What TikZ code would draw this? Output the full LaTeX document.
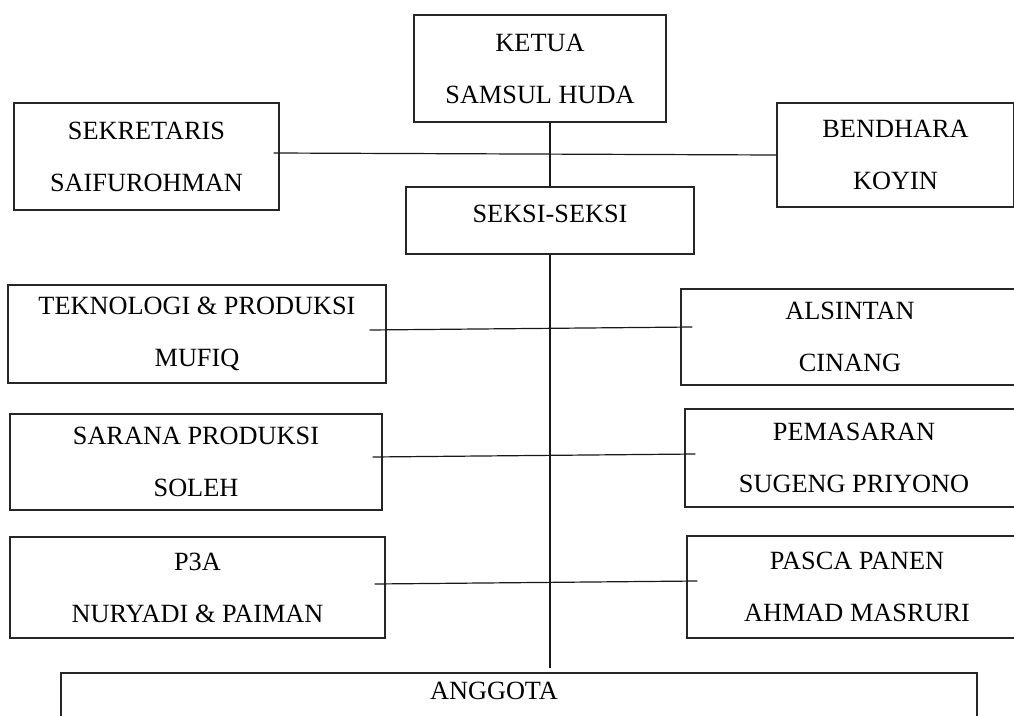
\documentclass[tikz,border=0pt]{standalone}
\usepackage{fontspec}
\setmainfont{Liberation Serif}
\usetikzlibrary{positioning,calc}

\tikzset{
  kotak/.style={draw=black!85,line width=1.2pt,rectangle,align=center,inner sep=0pt,
    font=\fontsize{26.3}{52}\selectfont},
  garis/.style={draw=black!90,line width=1.2pt}
}

\begin{document}
\begin{tikzpicture}[x=1pt,y=-1pt]
\useasboundingbox (0,0) rectangle (1014,715);
\clip (0,0) rectangle (1014,715);
% pengurus inti
\node[kotak,minimum width=252pt,minimum height=107pt] (ketua) at (540,68.5) {KETUA\\SAMSUL HUDA};
\node[kotak,minimum width=265pt,minimum height=107pt] (sekr) at (146.5,156.5) {SEKRETARIS\\SAIFUROHMAN};
\node[kotak,minimum width=237pt,minimum height=104pt] (bend) at (895.5,155) {BENDHARA\\KOYIN};
\node[kotak,minimum width=288pt,minimum height=67pt,text depth=14pt] (seksi) at (550,220.5) {SEKSI-SEKSI};
% seksi kiri
\node[kotak,minimum width=378pt,minimum height=98pt] (tekno) at (197,334) {TEKNOLOGI \& PRODUKSI\\MUFIQ};
\node[kotak,minimum width=372pt,minimum height=96pt] (sarana) at (196,462) {SARANA PRODUKSI\\SOLEH};
\node[kotak,minimum width=375pt,minimum height=101pt] (ptiga) at (197.5,587.5) {P3A\\NURYADI \& PAIMAN};
% seksi kanan
\node[kotak,minimum width=338pt,minimum height=96pt] (alsin) at (850,337) {ALSINTAN\\CINANG};
\node[kotak,minimum width=338pt,minimum height=98pt] (pemas) at (854,458) {PEMASARAN\\SUGENG PRIYONO};
\node[kotak,minimum width=340pt,minimum height=102pt] (pasca) at (857,587) {PASCA PANEN\\AHMAD MASRURI};
% anggota
\node[kotak,minimum width=916pt,minimum height=87pt,text depth=51pt] (anggota) at (519,716.5) {ANGGOTA\hspace*{50pt}};
% garis
\draw[garis] (seksi.north |- ketua.south) -- (seksi.north);
\draw[garis,shorten >=4pt] (seksi.south) -- (seksi.south |- anggota.north);
\draw[garis] ([xshift=-6pt,yshift=3.5pt]sekr.east) -- (bend.west);
\draw[garis] ([xshift=-17pt,yshift=4pt]tekno.east) -- ([xshift=12pt,yshift=10pt]alsin.west);
\draw[garis] ([xshift=-10pt,yshift=5pt]sarana.east) -- ([xshift=11pt,yshift=4pt]pemas.west);
\draw[garis] ([xshift=-11pt,yshift=3.5pt]ptiga.east) -- ([xshift=11pt,yshift=6pt]pasca.west);
\end{tikzpicture}
\end{document}
